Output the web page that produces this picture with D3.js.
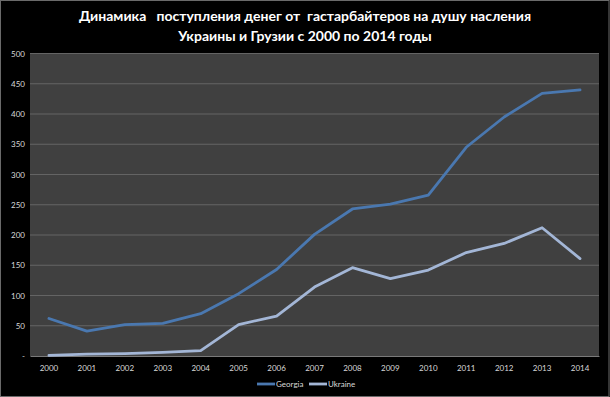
<!DOCTYPE html>
<html><head><meta charset="utf-8">
<script src="https://cdn.jsdelivr.net/npm/d3@7"></script>
<style>html,body{margin:0;padding:0;background:#000;}svg{display:block;}</style>
</head><body>
<script>
const years = ["2000","2001","2002","2003","2004","2005","2006","2007","2008","2009","2010","2011","2012","2013","2014"];
const georgia = [62,41,52,54,70,103,143,201,243,251,266,345,395,434,440];
const ukraine = [1,3,4,6,9,52,66,114,146,128,142,171,186,212,161];
const yTicks = [0,50,100,150,200,250,300,350,400,450,500];
const titleLines = ["Динамика   поступления денег от  гастарбайтеров на душу насления","Украины и Грузии с 2000 по 2014 годы"];
const seriesNames = ["Georgia","Ukraine"];
const colors = ["#4a78b0","#a3b6d6"];

const W=610,H=397;
const m={left:30,right:11,top:53.5,bottom:41};
const FONT="Lato, 'Open Sans', sans-serif";
const svg=d3.select("body").append("svg").attr("width",W).attr("height",H);
svg.append("rect").attr("width",W).attr("height",H).attr("fill","#000");
svg.append("rect").attr("x",0.5).attr("y",0.5).attr("width",W-1.5).attr("height",H-1).attr("fill","none").attr("stroke","#6a6a6a").attr("stroke-width",1);

const x=d3.scaleBand().domain(years).range([m.left,W-m.right]);
const y=d3.scaleLinear().domain([0,500]).range([H-m.bottom,m.top]);

svg.append("rect").attr("x",m.left).attr("y",m.top).attr("width",W-m.right-m.left).attr("height",H-m.bottom-m.top).attr("fill","#404040");

// grid
svg.append("g").selectAll("line").data(yTicks.filter(d=>d>0)).join("line")
  .attr("x1",m.left).attr("x2",W-m.right).attr("y1",d=>y(d)).attr("y2",d=>y(d))
  .attr("stroke","#646464").attr("stroke-width",1);

// axes
const ya=svg.append("g").attr("transform",`translate(${m.left},0)`)
  .call(d3.axisLeft(y).tickValues(yTicks).tickSize(0).tickPadding(5).tickFormat(d=>d===0?"-":d));
ya.select(".domain").remove();
ya.selectAll("text").attr("fill","#d9d9d9").attr("font-family",FONT).attr("font-size","8px");

const xa=svg.append("g").attr("transform",`translate(0,${H-m.bottom})`)
  .call(d3.axisBottom(x).tickSize(0).tickPadding(9));
xa.select(".domain").attr("stroke","#7a7a7a");
xa.selectAll("text").attr("fill","#d9d9d9").attr("font-family",FONT).attr("font-size","8px");

const line=d3.line().x((d,i)=>x(years[i])+x.bandwidth()/2).y(d=>y(d));
[georgia,ukraine].forEach((s,i)=>{
  svg.append("path").datum(s).attr("d",line).attr("fill","none")
    .attr("stroke",colors[i]).attr("stroke-width",2.8).attr("stroke-linejoin","round").attr("stroke-linecap","round");
});

// title
svg.append("g").selectAll("text").data(titleLines).join("text")
  .attr("x",W/2).attr("y",(d,i)=>21+i*20).attr("text-anchor","middle")
  .attr("fill","#fff").attr("font-family",FONT).attr("font-weight","bold").attr("font-size","14px")
  .style("white-space","pre").text(d=>d);

// legend
const lx=[257,309];
const lg=svg.append("g");
seriesNames.forEach((n,i)=>{
  lg.append("line").attr("x1",lx[i]).attr("x2",lx[i]+18).attr("y1",384).attr("y2",384)
    .attr("stroke",colors[i]).attr("stroke-width",2.8);
  lg.append("text").attr("x",lx[i]+19).attr("y",387).attr("fill","#d9d9d9")
    .attr("font-family",FONT).attr("font-size","8px").text(n);
});
</script>
</body></html>
